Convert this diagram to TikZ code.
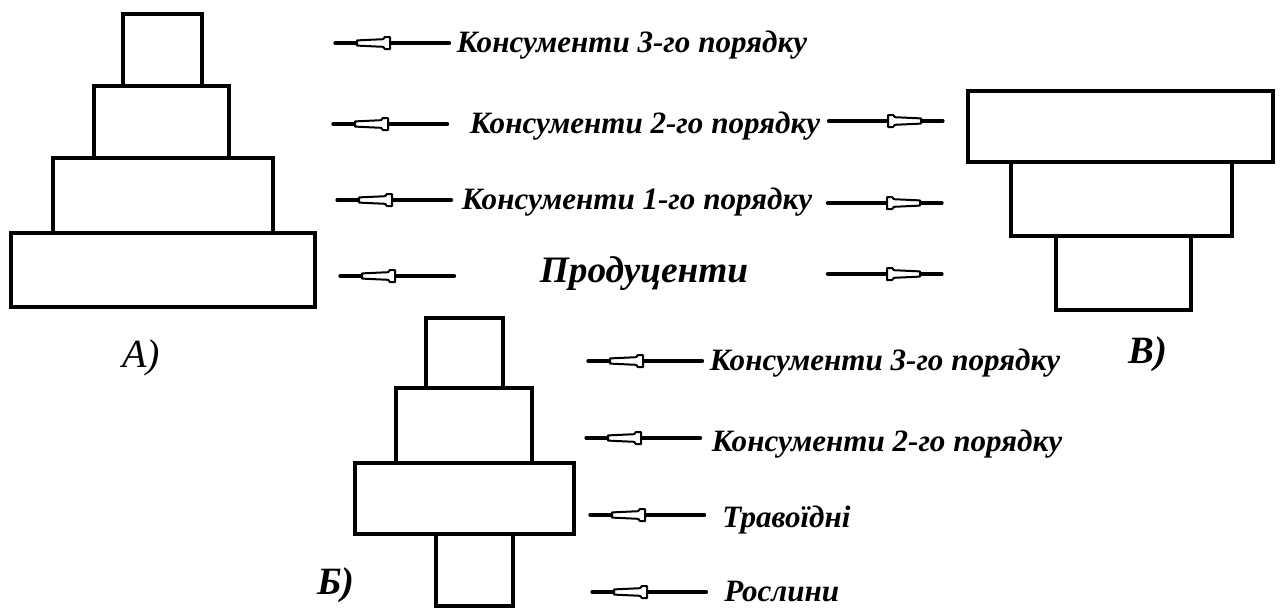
\documentclass[tikz,border=0pt]{standalone}
\usepackage{fontspec}
\setmainfont{Liberation Serif}
\begin{document}
\begin{tikzpicture}[x=0.75pt,y=-0.75pt,
  tier/.style={draw,line width=3pt,fill=white,inner sep=0pt},
  lbl/.style={font=\fontsize{23.3}{26}\selectfont\bfseries\itshape,anchor=base,inner sep=0pt},
  big/.style={font=\fontsize{28}{30}\selectfont\bfseries\itshape,anchor=base,inner sep=0pt},
  tag/.style={font=\fontsize{29}{30}\selectfont\bfseries\itshape,anchor=base,inner sep=0pt},
  larr/.pic={
    \draw[line width=2.4pt,line cap=round] (0,0) -- (25,0);
    \draw[line width=3.3pt,line cap=round] (55,0) -- (114,0);
    \draw[line width=1.5pt,fill=white,line join=round]
      (22,-2.6) -- (48,-3.8) -- (50,-6) -- (55,-6) -- (55,6) -- (50,6) -- (48,3.8) -- (22,2.6) -- cycle;
  }]
\useasboundingbox (0,0) rectangle (1283,608);

% pyramid A
\draw[tier] (11,233) rectangle (315,307);
\draw[tier] (53,158) rectangle (273,233);
\draw[tier] (94,86) rectangle (229,158);
\draw[tier] (123,14) rectangle (202,86);
\node[tag,font=\fontsize{30}{32}\selectfont\itshape] (labA) at (141,367) {А)};

% pyramid V (inverted)
\draw[tier] (1056,236) rectangle (1191,310);
\draw[tier] (1011,162) rectangle (1232,236);
\draw[tier] (968,91) rectangle (1273,162);
\node[tag] (labV) at (1148,363) {В)};

% pyramid B
\draw[tier] (436,534) rectangle (513,606);
\draw[tier] (355,463) rectangle (574,534);
\draw[tier] (396,388) rectangle (532,463);
\draw[tier] (426,318) rectangle (503,388);
\node[tag] (labB) at (336,594) {Б)};

% central labels
\node[lbl] (c3) at (632,52) {Консументи 3-го порядку};
\node[lbl] (c2) at (645,133) {Консументи 2-го порядку};
\node[lbl] (c1) at (637,209) {Консументи 1-го порядку};
\node[big] (pr) at (644,282) {Продуценти};

\pic at (335,43) {larr};
\pic at (333,124) {larr};
\pic at (337,200) {larr};
\pic at (340,276) {larr};
\pic[xscale=-1] at (943,121) {larr};
\pic[xscale=-1] at (942,203) {larr};
\pic[xscale=-1] at (942,274) {larr};

% labels of pyramid B
\node[lbl] (b3) at (885,370) {Консументи 3-го порядку};
\node[lbl] (b2) at (887,451) {Консументи 2-го порядку};
\node[lbl,anchor=base west] (b1) at (722,527) {Травоїдні};
\node[lbl,anchor=base west] (b0) at (724,601) {Рослини};

\pic at (588,361) {larr};
\pic at (586,438) {larr};
\pic at (590,515) {larr};
\pic at (592,592) {larr};
\end{tikzpicture}
\end{document}
